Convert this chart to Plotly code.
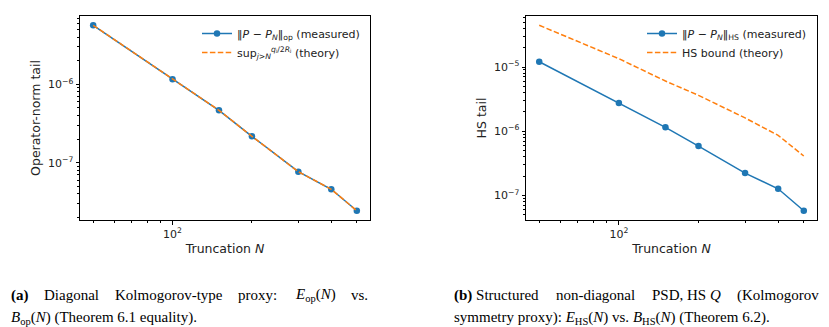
import numpy as np
import plotly.graph_objects as go

# ---- data ----
N = [50, 100, 150, 200, 300, 400, 500]
op_measured = [5.66e-6, 1.16e-6, 4.66e-7, 2.17e-7, 7.68e-8, 4.58e-8, 2.44e-8]
op_theory = [5.66e-6, 1.16e-6, 4.66e-7, 2.17e-7, 7.68e-8, 4.58e-8, 2.44e-8]
hs_measured = [1.21e-5, 2.75e-6, 1.15e-6, 5.88e-7, 2.23e-7, 1.27e-7, 5.78e-8]
hs_theory = [4.47e-5, 1.35e-5, 6.05e-6, 3.62e-6, 1.61e-6, 8.63e-7, 4.11e-7]

BLUE = "#1f77b4"
ORANGE = "#ff7f0e"
FONT = "DejaVu Sans"
W, H = 829, 327


def lrange(vals, m=0.05):
    lo, hi = np.log10(min(vals)), np.log10(max(vals))
    d = hi - lo
    return [lo - m * d, hi + m * d]


def minor_vals(r):
    out = []
    for e in range(int(np.floor(r[0])) - 1, int(np.ceil(r[1])) + 1):
        for k in range(2, 10):
            v = k * 10.0 ** e
            if r[0] <= np.log10(v) <= r[1]:
                out.append(v)
    return out


def major_vals(r):
    return [10.0 ** e for e in range(int(np.ceil(r[0])), int(np.floor(r[1])) + 1)]


def sup_label(v):
    e = int(round(np.log10(v)))
    s = str(e).replace("-", "\u2212")
    return f"10<sup>{s}</sup>"


fig = go.Figure()

# left panel
fig.add_trace(go.Scatter(x=N, y=op_measured, mode="lines+markers", xaxis="x", yaxis="y",
                         line=dict(color=BLUE, width=1.5), marker=dict(size=6.5, color=BLUE),
                         name="\u2016<i>P</i> \u2212 <i>P<sub>N</sub></i>\u2016<sub>op</sub> (measured)",
                         legend="legend"))
fig.add_trace(go.Scatter(x=N, y=op_theory, mode="lines", xaxis="x", yaxis="y",
                         line=dict(color=ORANGE, width=1.5, dash="5.5px,2.4px"),
                         name="sup<sub><i>j</i>><i>N</i></sub><sup><i>q</i>\u2c7c/2<i>R</i>\u2c7c</sup> (theory)",
                         legend="legend"))
# right panel
fig.add_trace(go.Scatter(x=N, y=hs_measured, mode="lines+markers", xaxis="x2", yaxis="y2",
                         line=dict(color=BLUE, width=1.5), marker=dict(size=6.5, color=BLUE),
                         name="\u2016<i>P</i> \u2212 <i>P<sub>N</sub></i>\u2016<sub>HS</sub> (measured)",
                         legend="legend2"))
fig.add_trace(go.Scatter(x=N, y=hs_theory, mode="lines", xaxis="x2", yaxis="y2",
                         line=dict(color=ORANGE, width=1.5, dash="5.5px,2.4px"),
                         name="HS bound (theory)", legend="legend2"))

xr = lrange(N)
yr1 = lrange(op_measured + op_theory)
yr2 = lrange(hs_measured + hs_theory)

common_axis = dict(type="log", showgrid=False, zeroline=False, showline=True, linecolor="black",
                   linewidth=1, mirror=True, ticks="outside", ticklen=3.5, tickwidth=0.8,
                   tickcolor="black", tickfont=dict(family=FONT, size=11, color="#222"))


def xaxis(dom, anchor):
    mv = major_vals(xr)
    return dict(common_axis, domain=dom, anchor=anchor, range=xr, tickmode="array",
                tickvals=mv, ticktext=[sup_label(v) for v in mv],
                minor=dict(tickmode="array", tickvals=minor_vals(xr), ticks="outside",
                           ticklen=2, tickwidth=0.6, tickcolor="black"),
                title=dict(text="Truncation <i>N</i>", font=dict(family=FONT, size=12.5, color="#222"),
                           standoff=4))


def yaxis(dom, anchor, r, title):
    mv = major_vals(r)
    return dict(common_axis, domain=dom, anchor=anchor, range=r, tickmode="array",
                tickvals=mv, ticktext=[sup_label(v) for v in mv],
                minor=dict(tickmode="array", tickvals=minor_vals(r), ticks="outside",
                           ticklen=2, tickwidth=0.6, tickcolor="black"),
                title=dict(text=title, font=dict(family=FONT, size=12.5, color="#222"), standoff=4))


ydom = [1 - 212 / H, 1 - 8 / H]
fig.update_layout(
    width=W, height=H, margin=dict(l=0, r=0, t=0, b=0),
    paper_bgcolor="white", plot_bgcolor="white",
    xaxis=xaxis([72 / W, 362 / W], "y"),
    yaxis=yaxis(ydom, "x", yr1, "Operator-norm tail"),
    xaxis2=xaxis([518 / W, 809 / W], "y2"),
    yaxis2=yaxis(ydom, "x2", yr2, "HS tail"),
    legend=dict(x=357 / W, y=1 - 11 / H, xanchor="right", yanchor="top", bgcolor="rgba(255,255,255,0.8)",
                font=dict(family=FONT, size=11, color="#222"), itemwidth=30, tracegroupgap=0),
    legend2=dict(x=803 / W, y=1 - 11 / H, xanchor="right", yanchor="top", bgcolor="rgba(255,255,255,0.8)",
                 font=dict(family=FONT, size=11, color="#222"), itemwidth=30, tracegroupgap=0),
    showlegend=True,
)

SERIF = "Liberation Serif"
cap_font = dict(family=SERIF, size=15, color="black")
caps = [
    ("<b>(a)</b>", 12, 287, "left"),
    ("Diagonal", 45, 287, "left"),
    ("Kolmogorov-type", 116, 287, "left"),
    ("proxy:", 239, 287, "left"),
    ("<i>E</i><sub>op</sub>(<i>N</i>)", 296, 287, "left"),
    ("vs.", 371, 287, "right"),
    ("<i>B</i><sub>op</sub>(<i>N</i>) (Theorem 6.1 equality).", 12, 310, "left"),
    ("<b>(b)</b> Structured", 455, 287, "left"),
    ("non-diagonal", 557, 287, "left"),
    ("PSD, HS <i>Q</i>", 653, 287, "left"),
    ("(Kolmogorov", 822, 287, "right"),
    ("symmetry proxy): <i>E</i><sub>HS</sub>(<i>N</i>) vs. <i>B</i><sub>HS</sub>(<i>N</i>) (Theorem 6.2).", 455, 310, "left"),
]
for txt, x, y, anc in caps:
    fig.add_annotation(text=txt, xref="paper", yref="paper", x=x / W, y=1 - y / H,
                       xanchor=anc, yanchor="middle", showarrow=False, font=cap_font, borderpad=0,
                       xshift=-10)

fig.write_html("out.html")
